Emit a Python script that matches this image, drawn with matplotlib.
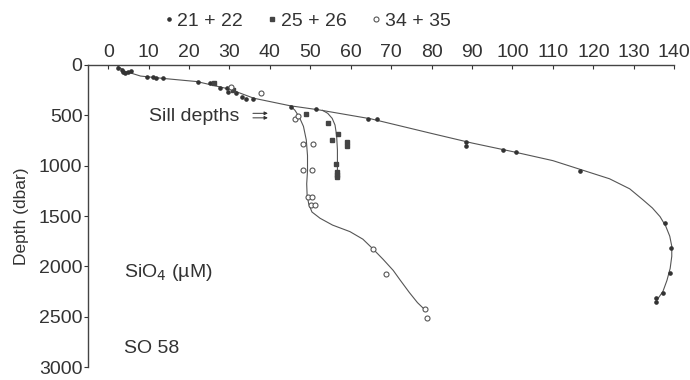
import numpy as np
import matplotlib
matplotlib.use('Agg')
import matplotlib.pyplot as plt

plt.rcParams['font.family'] = ['Liberation Sans', 'DejaVu Sans']
plt.rcParams['font.size'] = 14

# station 21 + 22 (dots)
si_21 = [2.4, 3.3, 3.7, 4.1, 4.9, 5.7, 9.5, 11.1, 11.9, 13.6, 22.2, 25.1, 27.6, 29.3,
         29.7, 31.7, 33.0, 34.2, 35.8, 45.3, 51.4, 64.3, 66.4, 88.5, 88.5, 97.7, 100.8,
         116.7, 137.8, 139.2, 138.9, 137.3, 135.4, 135.4]
z_21 = [33, 50, 66, 83, 66, 60, 122, 122, 129, 126, 172, 175, 225, 232,
        265, 275, 314, 338, 341, 414, 440, 536, 539, 801, 761, 844, 864,
        1056, 1566, 1821, 2062, 2261, 2317, 2350]

# station 25 + 26 (squares)
si_25 = [26.1, 30.9, 48.9, 54.3, 55.4, 56.9, 59.0, 59.0, 56.3, 56.5, 56.5, 56.5]
z_25 = [175, 248, 487, 573, 745, 689, 762, 804, 983, 1060, 1092, 1115]

# station 34 + 35 (open circles)
si_34 = [30.5, 37.9, 46.2, 47.0, 48.2, 50.7, 48.2, 50.3, 49.5, 50.3, 50.1, 51.1,
         65.5, 68.6, 78.3, 78.8]
z_34 = [215, 281, 539, 506, 788, 788, 1043, 1043, 1307, 1307, 1390, 1390,
        1827, 2078, 2426, 2516]

# hand-drawn fit lines
fit_main_si = [2.0, 4.0, 8.0, 14.0, 22.0, 30.0, 36.0, 45.0, 52.0, 65.0, 80.0, 90.0,
               100.0, 110.0, 117.0, 124.0, 129.0, 132.3, 134.6, 136.5, 137.9, 138.9,
               139.4, 139.4, 139.0, 138.2, 137.2, 135.8]
fit_main_z = [0, 60, 110, 135, 165, 240, 330, 405, 445, 535, 680, 775,
              860, 950, 1040, 1130, 1230, 1340, 1420, 1506, 1600, 1700,
              1800, 1900, 2020, 2140, 2250, 2330]
fit_25_si = [53.0, 54.3, 55.4, 56.1, 56.5, 56.7, 56.7, 56.7]
fit_25_z = [450, 480, 530, 596, 700, 844, 970, 1090]
fit_34_si = [45.0, 46.2, 47.3, 48.3, 49.0, 49.3, 49.3, 49.1, 49.2, 49.6, 50.4,
             52.4, 55.5, 59.8, 63.0, 65.5, 68.0, 70.5, 72.2, 74.5, 76.5, 78.3]
fit_34_z = [405, 450, 520, 610, 745, 900, 1050, 1180, 1290, 1380, 1460,
            1522, 1590, 1655, 1730, 1827, 1930, 2040, 2135, 2260, 2360, 2430]

fig = plt.figure(figsize=(6.9, 3.8), dpi=100)
ax = fig.add_axes([0.1275, 0.034, 0.8496, 0.795])

line_kw = dict(color='#555555', lw=0.8)
ax.plot(fit_main_si, fit_main_z, **line_kw)
ax.plot(fit_25_si, fit_25_z, **line_kw)
ax.plot(fit_34_si, fit_34_z, **line_kw)

h1, = ax.plot(si_21, z_21, 'o', ms=2.3, color='#333333', ls='none')
h2, = ax.plot(si_25, z_25, 's', ms=2.3, color='#444444', ls='none')
h3, = ax.plot(si_34, z_34, 'o', ms=3.6, mfc='white', mec='#555555', mew=0.8, ls='none')

ax.set_xlim(-5, 140)
ax.set_ylim(3000, 0)
ax.set_xticks(np.arange(0, 141, 10))
ax.set_yticks(np.arange(0, 3001, 500))
ax.xaxis.tick_top()
ax.tick_params(axis='x', direction='in', length=3, pad=3, colors='#333333', labelcolor='#333333')
ax.tick_params(axis='y', direction='out', length=3, pad=1, colors='#333333', labelcolor='#333333')
for s in ['right', 'bottom']:
    ax.spines[s].set_visible(False)
for s in ['top', 'left']:
    ax.spines[s].set_color('#444444')
    ax.spines[s].set_linewidth(1.0)

ax.set_ylabel('Depth (dbar)', fontsize=12.5, color='#333333', labelpad=7)

ax.text(10.2, 510, 'Sill depths', fontsize=14, color='#333333', va='center')
for z_arrow in [480, 525]:
    ax.annotate('', xy=(39.5, z_arrow), xytext=(35.8, z_arrow),
                arrowprops=dict(arrowstyle='-|>', lw=0.7, color='#333333',
                                mutation_scale=5, shrinkA=0, shrinkB=0))
ax.text(4, 2060, 'SiO$_4$ (µM)', fontsize=14, color='#333333', va='center')
ax.text(4, 2820, 'SO 58', fontsize=14, color='#333333', va='center')

fig.legend([h1, h2, h3], ['21 + 22', '25 + 26', '34 + 35'], loc='center',
           bbox_to_anchor=(0.446, 0.945), ncol=3, frameon=False, handlelength=0.4,
           handletextpad=0.25, columnspacing=1.3, fontsize=14, markerscale=1.0,
           labelcolor='#333333')

fig.savefig('out.png', dpi=100)
